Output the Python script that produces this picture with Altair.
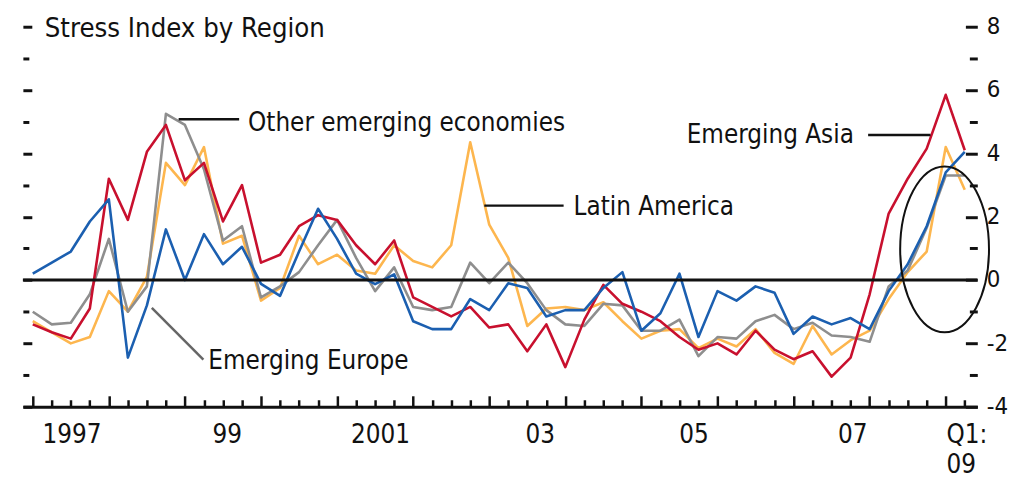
import altair as alt
import pandas as pd

# Quarter index: 0 = 1996Q4 ... 49 = 2009Q1
quarters = list(range(50))

emerging_asia = [
    -1.4, -1.65, -1.85, -0.9, 3.2, 1.9, 4.05, 4.9, 3.15, 3.7,
    1.85, 3.0, 0.55, 0.8, 1.7, 2.05, 1.9, 1.1, 0.5, 1.25,
    -0.55, -0.85, -1.15, -0.85, -1.5, -1.4, -2.25, -1.4, -2.75, -1.25,
    -0.15, -0.75, -1.0, -1.3, -1.8, -2.2, -2.0, -2.35, -1.6, -2.2,
    -2.5, -2.25, -3.05, -2.45, -0.45, 2.1, 3.2, 4.15, 5.85, 4.1,
]
latin_america = [
    -1.3, -1.65, -2.0, -1.8, -0.35, -1.0, 0.1, 3.7, 3.0, 4.2,
    1.15, 1.4, -0.65, -0.25, 1.4, 0.5, 0.8, 0.3, 0.2, 1.1,
    0.6, 0.4, 1.1, 4.35, 1.75, 0.7, -1.45, -0.9, -0.85, -0.95,
    -0.7, -1.3, -1.85, -1.6, -1.55, -2.15, -1.85, -2.1, -1.55, -2.3,
    -2.65, -1.45, -2.35, -1.9, -1.6, -0.6, 0.25, 0.9, 4.2, 2.85,
]
other_emerging = [
    -1.0, -1.4, -1.35, -0.45, 1.3, -1.0, -0.2, 5.25, 4.9, 3.5,
    1.25, 1.7, -0.55, -0.2, 0.25, 1.1, 1.9, 0.7, -0.35, 0.4,
    -0.85, -0.95, -0.85, 0.55, -0.1, 0.55, -0.1, -0.95, -1.4, -1.45,
    -0.75, -0.8, -1.6, -1.6, -1.25, -2.4, -1.8, -1.85, -1.3, -1.1,
    -1.55, -1.35, -1.75, -1.8, -1.95, -0.2, 0.3, 1.65, 3.3, 3.3,
]
emerging_europe = [
    0.2, 0.55, 0.9, 1.85, 2.55, -2.45, -0.8, 1.6, 0.0, 1.45,
    0.5, 1.05, -0.12, -0.5, 0.9, 2.25, 1.3, 0.2, -0.13, 0.18,
    -1.3, -1.55, -1.55, -0.6, -0.95, -0.1, -0.25, -1.15, -0.95, -0.95,
    -0.25, 0.25, -1.6, -1.05, 0.2, -1.8, -0.35, -0.65, -0.2, -0.4,
    -1.7, -1.15, -1.4, -1.2, -1.55, -0.35, 0.5, 1.7, 3.4, 4.05,
]

series_names = ["Latin America", "Other emerging economies", "Emerging Asia", "Emerging Europe"]
series_values = [latin_america, other_emerging, emerging_asia, emerging_europe]
series_colors = ["#FDB64E", "#8E8E8E", "#C8102E", "#1B5FB0"]

# x-axis labels (text and position in quarter index)
tick_label_text = ["1997", "99", "2001", "03", "05", "07", "Q1:|09"]
tick_label_pos = [2.03, 10.2, 18.26, 26.66, 34.74, 43.09, 48.01]

# annotations
ann_text = ["Stress Index by Region", "Other emerging economies", "Latin America",
            "Emerging Asia", "Emerging Europe"]
ann_t = [0.63, 11.32, 28.43, 34.38, 9.23]
ann_v = [7.69, 4.71, 2.04, 4.34, -2.80]
ann_size = [27.5, 26, 26, 26, 26]

lead_t1 = [7.67, 23.74, 43.92, 6.26]
lead_t2 = [10.85, 27.91, 47.2, 8.97]
lead_v1 = [5.08, 2.35, 4.58, -0.88]
lead_v2 = [5.08, 2.35, 4.58, -2.51]
lead_color = ["#111111", "#111111", "#111111", "#666666"]

ellipse_t = [47.94]
ellipse_v = [0.97]

zero_line = [0]

FONT = "Liberation Sans Narrow, Arial Narrow, DejaVu Sans Condensed, Roboto, sans-serif"
INK = "#111111"

x_scale = alt.Scale(domain=[-0.52, 49.66], nice=False, zero=False)
y_scale = alt.Scale(domain=[-4, 8], nice=False, zero=False)

label_expr = ""
for p, lab in zip(tick_label_pos, tick_label_text):
    if "|" in lab:
        a, b = lab.split("|")
        txt = f"['{a}', '{b}']"
    else:
        txt = f"'{lab}'"
    label_expr += f"abs(datum.value - {p}) < 0.001 ? {txt} : "
label_expr += "''"

x_axis = alt.Axis(
    orient="bottom",
    values=quarters + tick_label_pos,
    tickSize={"expr": "datum.value % 1 !== 0 ? 0 : (datum.value % 4 === 0 ? -11 : -7)"},
    tickWidth=2.5,
    tickColor=INK,
    domain=True,
    domainColor=INK,
    domainWidth=3,
    grid=False,
    labelExpr=label_expr,
    labelFont=FONT,
    labelFontSize=26,
    labelColor=INK,
    labelPadding=15,
    labelBaseline="top",
    labelLineHeight=30,
    labelAlign={"condition": {"test": "datum.value > 47.5", "value": "left"}, "value": "center"},
    labelOverlap=False,
    labelFlush=False,
    title=None,
)

y_left_axis = alt.Axis(
    orient="left",
    values=list(range(-4, 9)),
    tickSize={"expr": "datum.value % 2 === 0 ? -9 : -6"},
    tickWidth=3,
    tickColor=INK,
    domain=False,
    grid=False,
    labels=False,
    title=None,
)

y_right_axis = alt.Axis(
    orient="right",
    values=list(range(-4, 9)),
    tickSize={"expr": "datum.value % 2 === 0 ? -12 : -8"},
    tickWidth=3,
    tickColor=INK,
    domain=False,
    grid=False,
    labelExpr="datum.value % 2 === 0 ? '' + datum.value : ''",
    labelFont=FONT,
    labelFontSize=24,
    labelColor=INK,
    labelPadding=21,
    labelOverlap=False,
    labelFlush=False,
    title=None,
)


def X(field):
    return alt.X(field, type="quantitative", scale=x_scale, axis=x_axis)


layers = []
for i, (name, vals, col) in enumerate(zip(series_names, series_values, series_colors)):
    df = pd.DataFrame({"t": quarters, "value": vals, "series": name})
    layer = alt.Chart(df).mark_line(color=col, strokeWidth=2.6, strokeJoin="round").encode(
        x=X("t"),
        y=alt.Y("value:Q", scale=y_scale, axis=y_left_axis if i == 0 else None),
    )
    layers.append(layer)

zero_df = pd.DataFrame({"y": zero_line})
zero = alt.Chart(zero_df).mark_rule(color=INK, strokeWidth=3).encode(
    y=alt.Y("y:Q", scale=y_scale, axis=y_right_axis),
)

lead_df = pd.DataFrame({"t1": lead_t1, "t2": lead_t2, "v1": lead_v1, "v2": lead_v2, "c": lead_color})
leaders = alt.Chart(lead_df).mark_rule(strokeWidth=2.5).encode(
    x=X("t1"),
    x2="t2:Q",
    y=alt.Y("v1:Q", scale=y_scale, axis=None),
    y2="v2:Q",
    color=alt.Color("c:N", scale=None),
)

ann_df = pd.DataFrame({"text": ann_text, "t": ann_t, "v": ann_v, "s": ann_size})
ann = alt.Chart(ann_df).mark_text(align="left", baseline="alphabetic", font=FONT, color=INK).encode(
    x=X("t"),
    y=alt.Y("v:Q", scale=y_scale, axis=None),
    text="text:N",
    size=alt.Size("s:Q", scale=None, legend=None),
)

ell_path = ("M -0.536 0 C -0.536 -0.552 -0.296 -1 0 -1 C 0.296 -1 0.536 -0.552 0.536 0 "
            "C 0.536 0.552 0.296 1 0 1 C -0.296 1 -0.536 0.552 -0.536 0 Z")
ell_df = pd.DataFrame({"t": ellipse_t, "v": ellipse_v})
ellipse = alt.Chart(ell_df).mark_point(
    shape=ell_path, size=27900, filled=False, stroke=INK, strokeWidth=2, opacity=1
).encode(
    x=X("t"),
    y=alt.Y("v:Q", scale=y_scale, axis=None),
)

chart = alt.layer(*layers, zero, leaders, ann, ellipse).resolve_axis(
    y="independent"
).properties(
    width=962,
    height=383,
    padding={"left": 15, "top": 17, "right": 38, "bottom": 72},
    autosize=alt.AutoSizeParams(type="none"),
).configure_view(strokeWidth=0)

chart.save("out.html", embed_options={"renderer": "svg", "actions": False})
